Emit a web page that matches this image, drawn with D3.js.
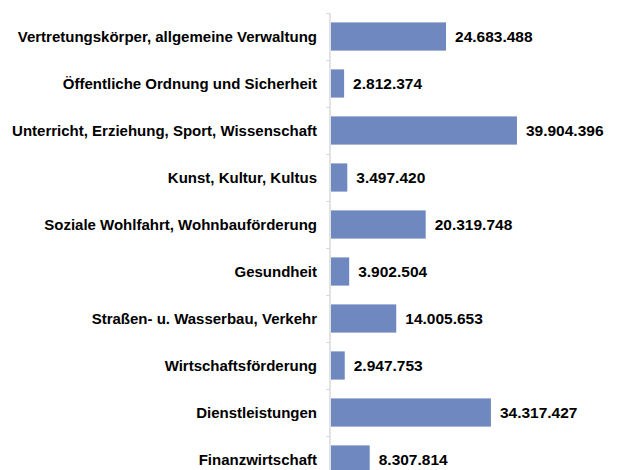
<!DOCTYPE html>
<html>
<head>
<meta charset="utf-8">
<script src="https://cdn.jsdelivr.net/npm/d3@7"></script>
<style>
  body { margin: 0; background: #fff; }
  svg { display: block; }
</style>
</head>
<body>
<div id="chart"></div>
<script>
var categories = [
  "Vertretungskörper, allgemeine Verwaltung",
  "Öffentliche Ordnung und Sicherheit",
  "Unterricht, Erziehung, Sport, Wissenschaft",
  "Kunst, Kultur, Kultus",
  "Soziale Wohlfahrt, Wohnbauförderung",
  "Gesundheit",
  "Straßen- u. Wasserbau, Verkehr",
  "Wirtschaftsförderung",
  "Dienstleistungen",
  "Finanzwirtschaft"
];
var values = [24683488, 2812374, 39904396, 3497420, 20319748, 3902504, 14005653, 2947753, 34317427, 8307814];
var valueLabels = ["24.683.488", "2.812.374", "39.904.396", "3.497.420", "20.319.748", "3.902.504", "14.005.653", "2.947.753", "34.317.427", "8.307.814"];
var xMax = 50000000;

var w = 617, h = 470;
var axisX = 330, axisTop = 13, band = 47;
var font = "'Liberation Sans', Arial, sans-serif";

var svg = d3.select("#chart").append("svg")
  .attr("width", w)
  .attr("height", h);

var x = d3.scaleLinear()
  .domain([0, xMax])
  .range([axisX, axisX + 233]);

var y = d3.scaleBand()
  .domain(categories)
  .range([axisTop, axisTop + band * categories.length])
  .paddingInner(0.4)
  .paddingOuter(0.2);

var data = categories.map(function(c, i) {
  return { name: c, value: values[i], label: valueLabels[i] };
});

// axis line, ticks sit between categories
var yAxis = d3.axisLeft(y).tickSize(0).tickFormat("");
var ax = svg.append("g")
  .attr("transform", "translate(" + (axisX - 0.5) + ",0)")
  .call(yAxis);
ax.select(".domain").attr("stroke", "#d9d9d9").attr("stroke-width", 1.5);

var bounds = d3.range(categories.length + 1).map(function(i) { return axisTop + band * i; });
svg.selectAll(".tick-line")
  .data(bounds)
  .enter()
  .append("line")
  .attr("x1", axisX - 4)
  .attr("x2", axisX)
  .attr("y1", function(d) { return d + 0.5; })
  .attr("y2", function(d) { return d + 0.5; })
  .style("stroke", "#d9d9d9");

svg.selectAll(".bar")
  .data(data)
  .enter()
  .append("rect")
  .attr("x", x(0) + 1)
  .attr("y", function(d) { return y(d.name); })
  .attr("width", function(d) { return x(d.value) - x(0); })
  .attr("height", y.bandwidth())
  .style("fill", "#7088c0");

svg.selectAll(".cat")
  .data(data)
  .enter()
  .append("text")
  .text(function(d) { return d.name; })
  .attr("x", axisX - 13)
  .attr("y", function(d) { return y(d.name) + y.bandwidth() / 2; })
  .attr("dy", "0.35em")
  .attr("text-anchor", "end")
  .style("font-family", font)
  .style("font-weight", "bold")
  .style("font-size", "15px")
  .style("fill", "#000");

svg.selectAll(".val")
  .data(data)
  .enter()
  .append("text")
  .text(function(d) { return d.label; })
  .attr("x", function(d) { return x(d.value) + 10; })
  .attr("y", function(d) { return y(d.name) + y.bandwidth() / 2; })
  .attr("dy", "0.35em")
  .style("font-family", font)
  .style("font-weight", "bold")
  .style("font-size", "15.5px")
  .style("fill", "#000");
</script>
</body>
</html>
